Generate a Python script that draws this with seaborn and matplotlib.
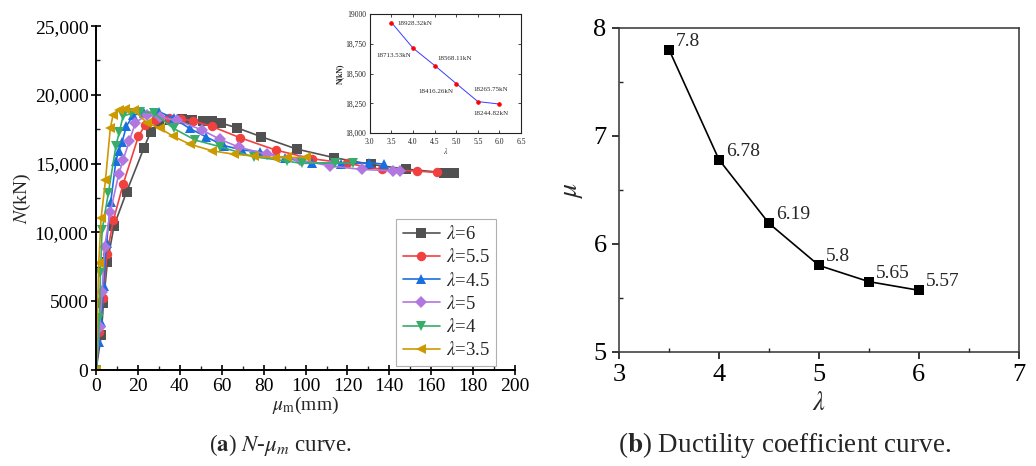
import numpy as np
import pandas as pd
import matplotlib
matplotlib.use("Agg")
import matplotlib.pyplot as plt
from matplotlib.ticker import MultipleLocator, FixedLocator
import seaborn as sns

# ---- (a) axial load N vs. mid-span displacement, one curve per slenderness ratio ----
lam_labels = ["6", "5.5", "4.5", "5", "4", "3.5"]

disp_6 = [0, 2.5, 3.5, 5.4, 8.6, 14.6, 22.9, 26.1, 30.1, 35.5, 41.0, 46.0, 50.9, 55.4,
          59.7, 67.2, 78.8, 95.8, 113.8, 131.0, 148.0, 166.0, 171.0]
load_6 = [0, 2540, 4850, 7830, 10490, 12960, 16160, 17320, 17970, 18200, 18280, 18200,
          18120, 18070, 17950, 17610, 16960, 16060, 15430, 14950, 14600, 14350, 14320]

disp_55 = [0, 1.6, 3.5, 5.2, 8.3, 13.0, 20.2, 23.5, 28.0, 35.0, 40.5, 46.5, 55.2, 68.5,
           85.7, 103.0, 120.0, 136.4, 153.1, 162.6]
load_55 = [0, 2790, 5230, 8450, 10900, 13540, 16980, 17830, 18190, 18300, 18250, 18110,
           17710, 16900, 15990, 15360, 15020, 14580, 14460, 14360]

disp_45 = [0, 1.2, 2.4, 3.6, 5.0, 7.0, 9.5, 10.8, 12.5, 14.5, 17.8, 23.0, 30.2, 37.0,
           44.7, 52.5, 60.9, 69.5, 78.4, 90.0, 103.0, 117.0, 130.5, 137.2]
load_45 = [0, 2000, 3510, 6100, 9200, 12190, 15210, 15900, 16600, 17730, 18530, 18700,
           18770, 18300, 17560, 16950, 16320, 16000, 15860, 15400, 15060, 15000, 15060, 14970]

disp_5 = [0, 1.7, 2.9, 4.1, 6.8, 10.8, 12.9, 15.9, 18.8, 24.3, 30.7, 38.6, 50.7, 59.3,
          68.2, 81.6, 97.5, 111.8, 126.9, 141.5, 145.1]
load_5 = [0, 3150, 5640, 8960, 11460, 14220, 15260, 16640, 17990, 18530, 18360, 18160,
          17440, 16760, 16200, 15670, 15260, 14830, 14580, 14480, 14480]

disp_4 = [0, 1.6, 2.1, 2.9, 5.9, 9.5, 11.1, 12.9, 16.7, 21.1, 27.5, 37.0, 47.4, 59.3,
          75.2, 91.1, 98.2, 114.2, 122.6]
load_4 = [0, 3750, 7020, 10170, 12890, 16300, 17310, 18450, 18650, 18770, 18700, 17560,
          16710, 16230, 15500, 15190, 15020, 15060, 15020]

disp_35 = [0, 1.3, 2.4, 4.5, 6.8, 8.1, 10.8, 13.7, 18.0, 24.3, 30.7, 36.7, 44.7, 55.3,
           65.7, 75.5, 85.5, 91.1, 100.3]
load_35 = [0, 7750, 11020, 13800, 17560, 18530, 18890, 18940, 18890, 17970, 17560, 17000,
           16420, 15940, 15690, 15550, 15430, 15450, 15450]

x_ticks_a = [0, 20, 40, 60, 80, 100, 120, 140, 160, 180, 200]
y_ticks_a = [0, 5000, 10000, 15000, 20000, 25000]
y_ticklabels_a = ["0", "5000", "10,000", "15,000", "20,000", "25,000"]

# ---- inset: peak load vs. slenderness ratio ----
inset_lam = [3.5, 4.0, 4.5, 5.0, 5.5, 6.0]
inset_peak = [18928.32, 18713.53, 18568.11, 18416.26, 18265.75, 18244.82]
inset_yticks = [18000, 18250, 18500, 18750, 19000]
inset_yticklabels = ["18,000", "18,250", "18,500", "18,750", "19000"]

# ---- (b) ductility coefficient vs. slenderness ratio ----
duct_lam = [3.5, 4.0, 4.5, 5.0, 5.5, 6.0]
duct_mu = [7.8, 6.78, 6.19, 5.8, 5.65, 5.57]

sns.set_style("ticks")
plt.rcParams["font.family"] = ["Liberation Serif", "DejaVu Serif"]
plt.rcParams["mathtext.fontset"] = "stix"

series = [
    (disp_6, load_6, "#515151", "s"),
    (disp_55, load_55, "#F14040", "o"),
    (disp_45, load_45, "#1A6FDF", "^"),
    (disp_5, load_5, "#B177DE", "D"),
    (disp_4, load_4, "#37AD6B", "v"),
    (disp_35, load_35, "#CC9900", "<"),
]

fig = plt.figure(figsize=(10.36, 4.66), dpi=100)

# ---------------- panel (a) ----------------
ax = fig.add_axes([0.0927, 0.206, 0.4045, 0.738])
for (xs, ys, col, mk), lab in zip(series, lam_labels):
    df = pd.DataFrame({"disp": xs, "load": ys})
    msize = 5.8 if mk == "D" else 6.8
    sns.lineplot(data=df, x="disp", y="load", ax=ax, color=col, marker=mk,
                 markersize=msize, markeredgewidth=0, linewidth=1.2,
                 sort=False, estimator=None, label=r"$\lambda$=" + lab)

ax.set_xlim(0, 200)
ax.set_ylim(0, 25000)
ax.xaxis.set_major_locator(FixedLocator(x_ticks_a))
ax.xaxis.set_minor_locator(MultipleLocator(10))
ax.yaxis.set_major_locator(FixedLocator(y_ticks_a))
ax.yaxis.set_minor_locator(MultipleLocator(2500))
ax.set_yticklabels(y_ticklabels_a)
ax.tick_params(which="major", direction="inout", length=7, width=1.2, labelsize=14,
               colors="black", pad=2)
ax.tick_params(which="minor", direction="in", length=3, width=1.0)
for s in ["top", "right"]:
    ax.spines[s].set_visible(False)
for s in ["left", "bottom"]:
    ax.spines[s].set_linewidth(1.4)
    ax.spines[s].set_color("black")
ax.set_xlabel(r"$\mu_{\mathrm{m}}$(mm)", fontsize=14, labelpad=0)
ax.set_ylabel(r"$N$(kN)", fontsize=14, labelpad=1)

leg = ax.legend(loc="lower left", bbox_to_anchor=(0.716, 0.012), fontsize=13.5,
                frameon=True, fancybox=False, framealpha=1, edgecolor="#b0b0b0",
                handlelength=2.0, handletextpad=0.3, labelspacing=0.28,
                borderpad=0.35, borderaxespad=0, markerscale=1.0)
leg.get_frame().set_linewidth(0.8)

# inset
axi = fig.add_axes([0.357, 0.714, 0.146, 0.256])
sns.lineplot(x=inset_lam, y=inset_peak, ax=axi, color="#3a3aff", linewidth=0.7,
             marker="o", markersize=2.5, markerfacecolor="red", markeredgecolor="red",
             sort=False, estimator=None)
axi.set_xlim(3.0, 6.5)
axi.set_ylim(18000, 19000)
axi.xaxis.set_major_locator(MultipleLocator(0.5))
axi.yaxis.set_major_locator(FixedLocator(inset_yticks))
axi.set_yticklabels(inset_yticklabels)
axi.xaxis.set_major_formatter(matplotlib.ticker.FormatStrFormatter("%.1f"))
axi.tick_params(which="major", direction="in", length=2, width=0.6, labelsize=5.5,
                pad=1.5, top=True, right=True, labeltop=False, labelright=False)
axi.tick_params(axis="x", pad=3.5)
axi.tick_params(axis="y", pad=2.5)
for s in axi.spines.values():
    s.set_linewidth(0.8)
    s.set_color("#222222")
axi.set_xlabel(r"$\lambda$", fontsize=5.5, labelpad=0)
axi.set_ylabel("N(kN)", fontsize=5.5, labelpad=1, fontweight="bold")
inset_offsets = [(4, -1, "left", "center"), (-1, -5, "right", "center"),
                 (2, 5, "left", "center"), (-2, -6, "right", "center"),
                 (-3, 9, "left", "center"), (-19, -7, "left", "center")]
for lx, ly, (dx, dy, ha, va) in zip(inset_lam, inset_peak, inset_offsets):
    axi.annotate(f"{ly:.2f}kN", (lx, ly), xytext=(dx, dy), textcoords="offset points",
                 fontsize=5, ha=ha, va=va)

# ---------------- panel (b) ----------------
axb = fig.add_axes([0.5975, 0.245, 0.386, 0.695])
sns.lineplot(x=duct_lam, y=duct_mu, ax=axb, color="black", linewidth=1.2,
             marker="s", markersize=6.5, markeredgewidth=0, sort=False, estimator=None)
for lx, ly in zip(duct_lam, duct_mu):
    axb.annotate(f"{ly:g}", (lx, ly), xytext=(5, 0), textcoords="offset points",
                 fontsize=14, ha="left", va="bottom")
axb.set_xlim(3, 7)
axb.set_ylim(5, 8)
axb.xaxis.set_major_locator(MultipleLocator(1))
axb.xaxis.set_minor_locator(MultipleLocator(0.5))
axb.yaxis.set_major_locator(MultipleLocator(1))
axb.yaxis.set_minor_locator(MultipleLocator(0.5))
axb.tick_params(which="major", direction="out", length=5, width=1.1, labelsize=19,
                colors="black", pad=4)
axb.tick_params(which="minor", direction="in", length=3, width=1.0)
for s in axb.spines.values():
    s.set_linewidth(1.1)
    s.set_color("#333333")
axb.set_xlabel(r"$\lambda$", fontsize=19, labelpad=4)
axb.set_ylabel(r"$\mu$", fontsize=20, labelpad=6)

# captions
fig.text(0.271, 0.045, r"($\mathbf{a}$) $N$-$\mu_m$ curve.", fontsize=16.5,
         ha="center", va="center")
fig.text(0.757, 0.045, r"($\mathbf{b}$) Ductility coefficient curve.", fontsize=19.5,
         ha="center", va="center")

fig.savefig("out.png", dpi=100, facecolor="white")
